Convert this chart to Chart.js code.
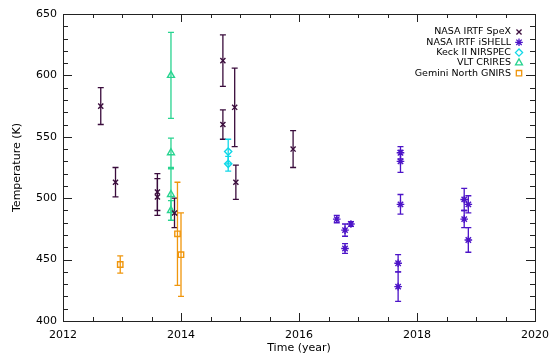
<!DOCTYPE html>
<html>
<head>
<meta charset="utf-8">
<script src="https://cdn.jsdelivr.net/npm/chart.js@4.4.0/dist/chart.umd.min.js"></script>
<style>
  body { margin: 0; background: #fff; }
  #wrap { width: 557px; height: 360px; }
</style>
</head>
<body>
<div id="wrap"><canvas id="temps" width="557" height="360"></canvas></div>
<script>
// values (year, temperature K, +/- error K)
const spexYear = [2012.64, 2012.89, 2013.60, 2013.60, 2013.89, 2014.71, 2014.71, 2014.91, 2014.93, 2015.90];
const spexTemp = [575, 513, 505, 501, 488, 612, 560, 574, 513, 540];
const spexErr  = [15, 12, 15, 15, 12, 21, 12, 32, 14, 15];

const ishellYear = [2016.64, 2016.78, 2016.78, 2016.88, 2017.72, 2017.72, 2017.72, 2017.68, 2017.68, 2018.80, 2018.80, 2018.87, 2018.87];
const ishellTemp = [483, 474, 459, 479, 537, 530, 495, 447, 428, 499, 483, 495, 466];
const ishellErr  = [3, 5, 4, 2, 5, 9, 8, 7, 12, 9, 7, 7, 10];

const keckYear = [2014.80, 2014.80];
const keckTemp = [538, 528];
const keckErr  = [10, 6];

const vltYear = [2013.83, 2013.83, 2013.83, 2013.83];
const vltTemp = [600, 537, 503, 490];
const vltErr  = [35, 12, 21, 8];

const gemYear = [2012.97, 2013.94, 2014.00];
const gemTemp = [446, 471, 454];
const gemErr  = [7, 42, 34];

const xTicks = [2012, 2014, 2016, 2018, 2020];
const yTicks = [400, 450, 500, 550, 600, 650];
const xMinorStep = 0.5;
const yMinorStep = 10;

const FONT = 'DejaVu Sans';

function makeSet(label, years, temps, errs, color, style, radius) {
    return {
        label: label,
        data: years.map((x, i) => ({ x: x, y: temps[i], err: errs[i] })),
        borderColor: color,
        backgroundColor: 'rgba(0,0,0,0)',
        pointStyle: style,
        pointRadius: radius,
        pointBorderWidth: 1.4,
        showLine: false
    };
}

//error bars drawn under the markers
const errorBars = {
    id: 'errorBars',
    beforeDatasetsDraw(chart) {
        const { ctx, scales: { x, y } } = chart;
        chart.data.datasets.forEach(ds => {
            ctx.save();
            ctx.strokeStyle = ds.borderColor;
            ctx.lineWidth = 1.3;
            ds.data.forEach(p => {
                const px = x.getPixelForValue(p.x);
                const top = y.getPixelForValue(p.y + p.err);
                const bot = y.getPixelForValue(p.y - p.err);
                ctx.beginPath();
                ctx.moveTo(px, top); ctx.lineTo(px, bot);
                ctx.moveTo(px - 3, top); ctx.lineTo(px + 3, top);
                ctx.moveTo(px - 3, bot); ctx.lineTo(px + 3, bot);
                ctx.stroke();
            });
            ctx.restore();
        });
    }
};

//IDL style box with inward ticks on all four sides
const frameTicks = {
    id: 'frameTicks',
    afterDraw(chart) {
        const { ctx, chartArea: a, scales: { x, y } } = chart;
        ctx.save();
        ctx.strokeStyle = '#222';
        ctx.lineWidth = 1;
        ctx.strokeRect(a.left + 0.5, a.top + 0.5, a.right - a.left, a.bottom - a.top);
        ctx.beginPath();
        for (let v = x.min; v <= x.max + 1e-9; v += xMinorStep) {
            const px = Math.round(x.getPixelForValue(v)) + 0.5;
            const len = xTicks.includes(v) ? 8 : 4;
            ctx.moveTo(px, a.bottom); ctx.lineTo(px, a.bottom - len);
            ctx.moveTo(px, a.top); ctx.lineTo(px, a.top + len);
        }
        for (let v = y.min; v <= y.max + 1e-9; v += yMinorStep) {
            const py = Math.round(y.getPixelForValue(v)) + 0.5;
            const len = yTicks.includes(v) ? 9 : 5;
            ctx.moveTo(a.left, py); ctx.lineTo(a.left + len, py);
            ctx.moveTo(a.right, py); ctx.lineTo(a.right - len, py);
        }
        ctx.stroke();
        ctx.restore();
    }
};

//legend in the top right corner, symbol to the right of the text
const sideLegend = {
    id: 'sideLegend',
    afterDraw(chart) {
        const { ctx, chartArea: a } = chart;
        ctx.save();
        ctx.font = '9.5px "' + FONT + '"';
        ctx.textAlign = 'right';
        ctx.textBaseline = 'middle';
        chart.data.datasets.forEach((ds, i) => {
            const ty = a.top + 18 + i * 10.3;
            const tx = a.right - 24;
            ctx.fillStyle = '#000';
            ctx.fillText(ds.label, tx, ty);
            ctx.strokeStyle = ds.borderColor;
            ctx.fillStyle = 'rgba(0,0,0,0)';
            ctx.lineWidth = 1.3;
            Chart.helpers.drawPoint(ctx, {
                pointStyle: ds.pointStyle, radius: ds.pointRadius, rotation: 0, borderWidth: 1.3
            }, tx + 8, ty);
        });
        ctx.restore();
    }
};

const ctx = document.getElementById('temps').getContext('2d');
new Chart(ctx, {
    type: 'scatter',
    data: {
        datasets: [
            makeSet('NASA IRTF SpeX', spexYear, spexTemp, spexErr, '#3a0c3c', 'crossRot', 3.6),
            makeSet('NASA IRTF iSHELL', ishellYear, ishellTemp, ishellErr, '#4d14c8', 'star', 3.8),
            makeSet('Keck II NIRSPEC', keckYear, keckTemp, keckErr, '#10d8e8', 'rectRot', 3.6),
            makeSet('VLT CRIRES', vltYear, vltTemp, vltErr, '#28d490', 'triangle', 4),
            makeSet('Gemini North GNIRS', gemYear, gemTemp, gemErr, '#f0960c', 'rect', 3.8)
        ]
    },
    options: {
        responsive: false,
        animation: false,
        devicePixelRatio: 1,
        layout: { padding: { left: 0, right: 20, top: 14, bottom: 0 } },
        plugins: { legend: { display: false }, tooltip: { enabled: false } },
        scales: {
            x: {
                type: 'linear', min: 2012, max: 2020,
                afterBuildTicks: s => { s.ticks = xTicks.map(v => ({ value: v })); },
                afterFit: s => { s.height = 39; },
                grid: { display: false, drawTicks: false },
                border: { display: false },
                ticks: { color: '#000', padding: 8, font: { family: FONT, size: 11 }, callback: v => String(v) },
                title: { display: true, text: 'Time (year)', color: '#000', font: { family: FONT, size: 11 }, padding: { top: 3, bottom: 5 } }
            },
            y: {
                min: 400, max: 650,
                afterBuildTicks: s => { s.ticks = yTicks.map(v => ({ value: v })); },
                afterFit: s => { s.width = 63; },
                grid: { display: false, drawTicks: false },
                border: { display: false },
                ticks: { color: '#000', padding: 6, font: { family: FONT, size: 11 }, callback: v => String(v) },
                title: { display: true, text: 'Temperature (K)', color: '#000', font: { family: FONT, size: 11 }, padding: { top: 11, bottom: 0 } }
            }
        }
    },
    plugins: [errorBars, frameTicks, sideLegend]
});
</script>
</body>
</html>
